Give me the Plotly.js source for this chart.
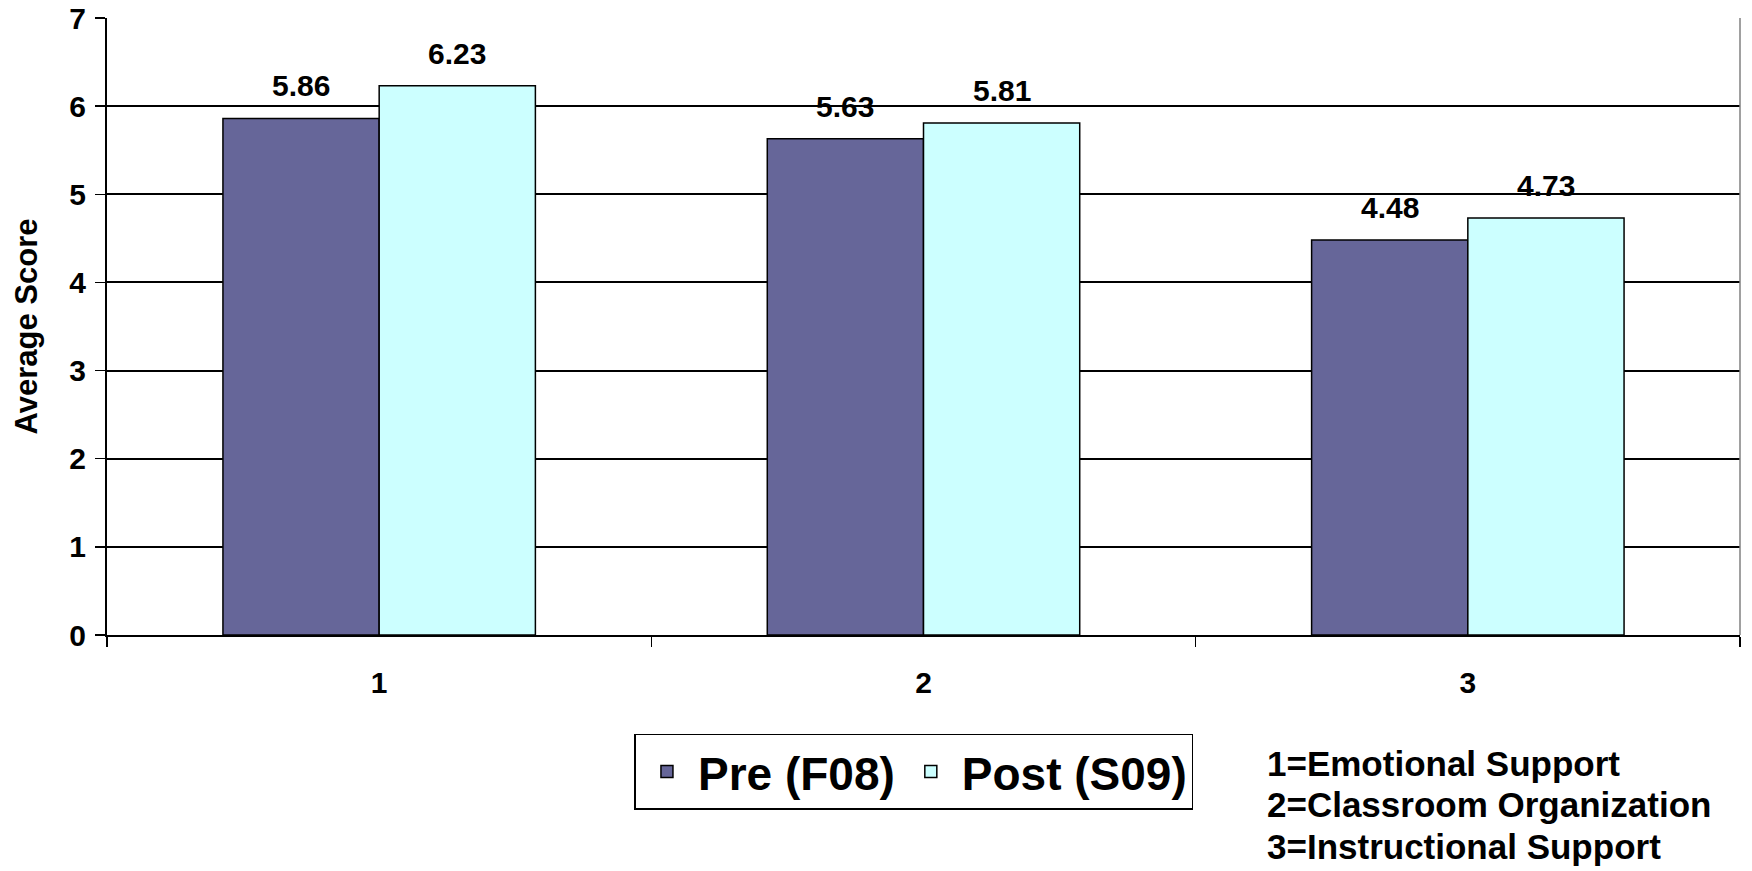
<!DOCTYPE html>
<html>
<head>
<meta charset="utf-8">
<script src="https://cdn.plot.ly/plotly-3.0.1.min.js"></script>
<style>html,body{margin:0;padding:0;background:#fff;}#chart{width:1752px;height:871px;}</style>
</head>
<body>
<div id="chart"></div>
<script>
const categories = ["1", "2", "3"];
const preValues = [5.86, 5.63, 4.48];
const postValues = [6.23, 5.81, 4.73];
const seriesNames = ["Pre (F08)", "Post (S09)"];
const categoryKey = ["1=Emotional Support", "2=Classroom Organization", "3=Instructional Support"];
const yTicks = [0, 1, 2, 3, 4, 5, 6, 7];

const FONT = "Arial, 'Liberation Sans', sans-serif";
const BARGAP = 0.426;
const labelFont = {family: FONT, size: 30, color: "#000", weight: "bold"};

const traces = [
  {
    type: "bar", name: seriesNames[0], x: categories, y: preValues,
    marker: {color: "#666699", line: {color: "#000", width: 1.5}}
  },
  {
    type: "bar", name: seriesNames[1], x: categories, y: postValues,
    marker: {color: "#CCFFFF", line: {color: "#000", width: 1.5}}
  }
];

// value labels placed above each bar through the axes (category index +/- half a bar)
const barW = (1 - BARGAP) / 2;
const valueLabels = [];
[preValues, postValues].forEach((vals, s) => {
  const off = (s - 0.5) * barW;
  vals.forEach((v, i) => {
    valueLabels.push({
      xref: "x", yref: "y", x: i + off, y: v, xanchor: "center", yanchor: "bottom",
      yshift: 14, showarrow: false, text: v.toFixed(2), font: labelFont
    });
  });
});

// key text block, one line per annotation
const keyLines = categoryKey.map((t, i) => ({
  xref: "paper", yref: "paper", x: 0.709, y: -0.2075 - i * 0.068,
  xanchor: "left", yanchor: "middle", align: "left", showarrow: false, text: t,
  font: {family: FONT, size: 35, color: "#000", weight: "bold"}
}));

const layout = {
  width: 1752, height: 871,
  margin: {l: 107, r: 12, t: 18, b: 236},
  paper_bgcolor: "#fff", plot_bgcolor: "#fff",
  barmode: "group", bargap: BARGAP, bargroupgap: 0,
  font: {family: FONT, color: "#000"},
  showlegend: true,
  legend: {
    orientation: "h", x: 0.323, xanchor: "left", y: -0.16, yanchor: "top",
    bordercolor: "#000", borderwidth: 1.5, bgcolor: "#fff",
    font: {family: FONT, size: 46, color: "#000", weight: "bold"},
    itemwidth: 52, tracegroupgap: 0
  },
  xaxis: {
    type: "category", tickson: "boundaries", ticks: "outside", ticklen: 10,
    tickcolor: "#000", tickwidth: 1.5, showline: true, linecolor: "#000", linewidth: 2,
    showgrid: false, zeroline: false, ticklabelstandoff: 20,
    tickfont: {family: FONT, size: 30, color: "#000", weight: "bold"}, fixedrange: true
  },
  yaxis: {
    range: [0, 7], tickvals: yTicks, ticks: "outside", ticklen: 10,
    tickcolor: "#000", tickwidth: 1.5, showline: true, linecolor: "#000", linewidth: 2,
    showgrid: true, gridcolor: "#000", gridwidth: 2, zeroline: false,
    ticklabelstandoff: 3,
    tickfont: {family: FONT, size: 30, color: "#000", weight: "bold"},
    title: {text: "Average Score", standoff: 22, font: {family: FONT, size: 31, color: "#000", weight: "bold"}},
    fixedrange: true
  },
  shapes: [
    {type: "line", xref: "paper", yref: "paper", x0: 1, x1: 1, y0: 1, y1: 0,
     line: {color: "#808080", width: 1.5}}
  ],
  annotations: valueLabels.concat(keyLines)
};

Plotly.newPlot("chart", traces, layout, {displayModeBar: false, staticPlot: true});
</script>
</body>
</html>
